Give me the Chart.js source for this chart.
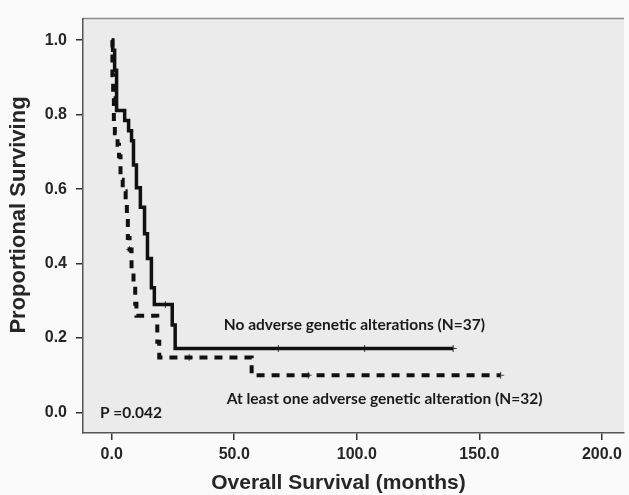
<!DOCTYPE html>
<html>
<head>
<meta charset="utf-8">
<script src="https://cdn.jsdelivr.net/npm/chart.js@4"></script>
<style>
  html, body { margin: 0; padding: 0; background: #fafafa; }
</style>
</head>
<body>
<canvas id="km" width="629" height="495"></canvas>
<script>
// Kaplan-Meier data (months, proportion surviving)
var noAdverseT = [0, 0.4, 1.2, 2.0, 5.3, 6.9, 8.1, 8.9, 10.1, 11.7, 13.4, 14.6, 16.2, 17.4, 24.7, 25.9, 139.3];
var noAdverseS = [1.0, 0.973, 0.919, 0.811, 0.784, 0.757, 0.730, 0.665, 0.604, 0.551, 0.480, 0.414, 0.335, 0.290, 0.235, 0.172, 0.172];
var noAdverseCensT = [21.9, 68.0, 103.2, 139.3];
var noAdverseCensS = [0.290, 0.172, 0.172, 0.172];

var adverseT = [0, 0.3, 0.6, 0.9, 1.3, 2.4, 3.0, 3.6, 4.5, 5.7, 6.2, 6.6, 7.3, 8.1, 8.9, 9.6, 10.1, 18.6, 19.4, 57.1, 158.7];
var adverseS = [1.0, 0.906, 0.844, 0.781, 0.750, 0.719, 0.688, 0.625, 0.594, 0.563, 0.531, 0.469, 0.438, 0.375, 0.344, 0.292, 0.260, 0.190, 0.148, 0.100, 0.100];
var adverseCensT = [7.3, 31.6, 80.2, 158.7];
var adverseCensS = [0.438, 0.148, 0.100, 0.100];

var xTicks = [0, 50, 100, 150, 200];
var yTicks = [0, 0.2, 0.4, 0.6, 0.8, 1.0];

var labelNoAdverse = 'No adverse genetic alterations (N=37)';
var labelAdverse = 'At least one adverse genetic alteration (N=32)';
var pValueText = 'P =0.042';
var xTitle = 'Overall Survival (months)';
var yTitle = 'Proportional Surviving';

function pts(xs, ys) {
    return xs.map(function (x, i) { return { x: x, y: ys[i] }; });
}

// grey plot panel + top frame line
var panelPlugin = {
    id: 'panel',
    beforeDraw: function (chart) {
        var c = chart.ctx, a = chart.chartArea;
        c.save();
        c.fillStyle = '#ebebeb';
        c.fillRect(a.left, a.top, a.right - a.left, a.bottom - a.top);
        c.strokeStyle = '#8a8a8a';
        c.lineWidth = 1.5;
        c.beginPath();
        c.moveTo(a.left, a.top);
        c.lineTo(a.right, a.top);
        c.stroke();
        c.restore();
    }
};

// text inside the plot + both axis titles (they sit a bit off-centre in the original)
var notesPlugin = {
    id: 'notes',
    afterDatasetsDraw: function (chart) {
        var c = chart.ctx, xs = chart.scales.x, ys = chart.scales.y;
        c.save();
        c.fillStyle = '#1a1a1a';
        c.font = 'bold 15.5px Lato';
        c.textAlign = 'center';
        c.textBaseline = 'middle';
        c.fillText(labelNoAdverse, xs.getPixelForValue(99), ys.getPixelForValue(0.236));
        c.fillText(labelAdverse, xs.getPixelForValue(111.3), ys.getPixelForValue(0.036));
        c.textAlign = 'left';
        c.fillText(pValueText, xs.getPixelForValue(-4.8), ys.getPixelForValue(0));

        c.fillStyle = '#262626';
        c.font = 'bold 21px Arial, "Liberation Sans", sans-serif';
        c.textAlign = 'center';
        c.fillText(xTitle, xs.getPixelForValue(92.5), 483);

        c.font = 'bold 22px Arial, "Liberation Sans", sans-serif';
        c.translate(19, 215);
        c.rotate(-Math.PI / 2);
        c.fillText(yTitle, 0, 0);
        c.restore();
    }
};

var axisFont = { family: 'Arial, "Liberation Sans", sans-serif', size: 16, weight: 'bold' };

var ctx = document.getElementById('km').getContext('2d');
var myChart = new Chart(ctx, {
    type: 'scatter',
    data: {
        datasets: [{
            label: labelNoAdverse,
            data: pts(noAdverseT, noAdverseS),
            showLine: true,
            stepped: true,
            borderColor: '#111111',
            borderWidth: 3.5,
            pointRadius: 0
        }, {
            label: labelAdverse,
            data: pts(adverseT, adverseS),
            showLine: true,
            stepped: true,
            borderColor: '#111111',
            borderWidth: 4,
            borderDash: [8, 7],
            pointRadius: 0
        }, {
            label: 'censored 1',
            data: pts(noAdverseCensT, noAdverseCensS),
            showLine: false,
            pointStyle: 'cross',
            pointRadius: 3.5,
            borderColor: '#333333',
            borderWidth: 1
        }, {
            label: 'censored 2',
            data: pts(adverseCensT, adverseCensS),
            showLine: false,
            pointStyle: 'cross',
            pointRadius: 3.5,
            borderColor: '#555555',
            borderWidth: 1
        }]
    },
    options: {
        responsive: false,
        animation: false,
        layout: { padding: { top: 11, left: 0, right: 0, bottom: 0 } },
        plugins: {
            legend: { display: false },
            tooltip: { enabled: false }
        },
        scales: {
            x: {
                type: 'linear',
                min: -11.7,
                max: 209,
                afterFit: function (s) { s.height = 62; },
                afterBuildTicks: function (s) { s.ticks = xTicks.map(function (v) { return { value: v }; }); },
                grid: { drawOnChartArea: false, drawTicks: true, tickLength: 7, color: '#333', lineWidth: 1.5 },
                border: { display: true, color: '#555', width: 1.5 },
                ticks: {
                    color: '#262626',
                    font: axisFont,
                    padding: 5,
                    maxRotation: 0,
                    callback: function (v) { return v.toFixed(1); }
                },
                title: { display: false }
            },
            y: {
                min: -0.055,
                max: 1.058,
                afterFit: function (s) { s.width = 83; },
                afterBuildTicks: function (s) { s.ticks = yTicks.map(function (v) { return { value: v }; }); },
                grid: { drawOnChartArea: false, drawTicks: true, tickLength: 7, color: '#333', lineWidth: 1.5 },
                border: { display: true, color: '#555', width: 1.5 },
                ticks: {
                    color: '#262626',
                    font: axisFont,
                    padding: 9,
                    callback: function (v) { return v.toFixed(1); }
                },
                title: { display: false }
            }
        }
    },
    plugins: [panelPlugin, notesPlugin]
});
</script>
</body>
</html>
